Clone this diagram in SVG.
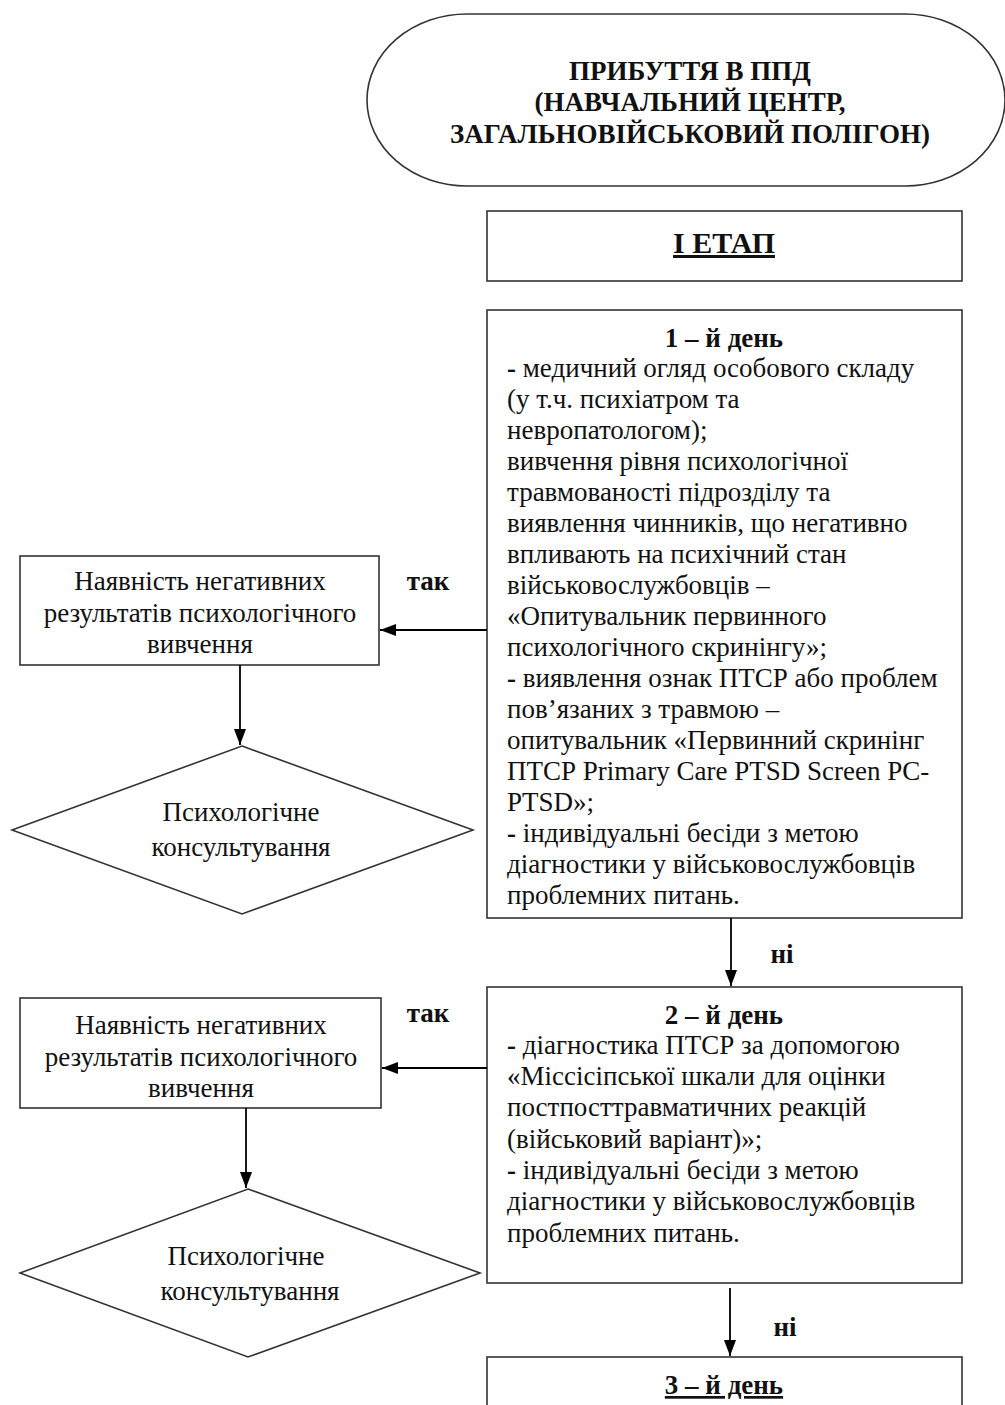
<svg xmlns="http://www.w3.org/2000/svg" width="1005" height="1405" viewBox="0 0 1005 1405">
<defs>
<marker id="ah" viewBox="0 0 16 12" refX="16" refY="6" markerWidth="16" markerHeight="12" markerUnits="userSpaceOnUse" orient="auto">
<path d="M0,0 L16,6 L0,12 Z" fill="#000"/>
</marker>
</defs>
<style>
.box{fill:#fff;stroke:#333;stroke-width:1.6}
.t{font-family:"Liberation Serif","Times New Roman",serif;font-size:27px;fill:#111}
.b{font-weight:bold}
.c{text-anchor:middle}
.u{text-decoration:underline}
.ln{stroke:#000;stroke-width:1.8;fill:none;marker-end:url(#ah)}
.h{font-family:"Liberation Serif","Times New Roman",serif;font-size:27px;font-weight:bold;fill:#111;text-anchor:middle}
</style>
<rect width="1005" height="1405" fill="#fff"/>
<g id="start">
<rect class="box" x="367" y="14" width="638" height="172" rx="100" ry="86"/>
<text class="h" x="690" y="80">ПРИБУТТЯ В ППД</text>
<text class="h" x="690" y="111">(НАВЧАЛЬНИЙ ЦЕНТР,</text>
<text class="h" x="690" y="143">ЗАГАЛЬНОВІЙСЬКОВИЙ ПОЛІГОН)</text>
</g>
<g id="stage1">
<rect class="box" x="487" y="211" width="475" height="70"/>
<text class="h u" x="724" y="253" style="font-size:30px">I ЕТАП</text>
</g>
<g id="day1">
<rect class="box" x="487" y="310" width="475" height="608"/>
<text class="t b c" x="724" y="347">1 – й день</text>
<text class="t" x="507" y="377"><tspan class="b">-</tspan> медичний огляд особового складу</text>
<text class="t" x="507" y="408">(у т.ч. психіатром та</text>
<text class="t" x="507" y="439">невропатологом);</text>
<text class="t" x="507" y="470">вивчення рівня психологічної</text>
<text class="t" x="507" y="501">травмованості підрозділу та</text>
<text class="t" x="507" y="532">виявлення чинників, що негативно</text>
<text class="t" x="507" y="563">впливають на психічний стан</text>
<text class="t" x="507" y="594">військовослужбовців –</text>
<text class="t" x="507" y="625">«Опитувальник первинного</text>
<text class="t" x="507" y="656">психологічного скринінгу»;</text>
<text class="t" x="507" y="687"><tspan class="b">-</tspan> виявлення ознак ПТСР або проблем</text>
<text class="t" x="507" y="718">пов’язаних з травмою –</text>
<text class="t" x="507" y="749">опитувальник «Первинний скринінг</text>
<text class="t" x="507" y="780">ПТСР Primary Care PTSD Screen PC-</text>
<text class="t" x="507" y="811">PTSD»;</text>
<text class="t" x="507" y="842"><tspan class="b">-</tspan> індивідуальні бесіди з метою</text>
<text class="t" x="507" y="873">діагностики у військовослужбовців</text>
<text class="t" x="507" y="904">проблемних питань.</text>
</g>
<g id="neg1">
<rect class="box" x="20" y="556" width="359" height="109"/>
<text class="t c" x="200" y="590">Наявність негативних</text>
<text class="t c" x="200" y="622">результатів психологічного</text>
<text class="t c" x="200" y="653">вивчення</text>
</g>
<g id="cons1">
<polygon class="box" points="242,746 473,830 242,914 12,830"/>
<text class="t c" x="241" y="821">Психологічне</text>
<text class="t c" x="241" y="856">консультування</text>
</g>
<g id="day2">
<rect class="box" x="487" y="987" width="475" height="296"/>
<text class="t b c" x="724" y="1024">2 – й день</text>
<text class="t" x="507" y="1054"><tspan class="b">-</tspan> діагностика ПТСР за допомогою</text>
<text class="t" x="507" y="1085">«Міссісіпської шкали для оцінки</text>
<text class="t" x="507" y="1116">постпосттравматичних реакцій</text>
<text class="t" x="507" y="1148">(військовий варіант)»;</text>
<text class="t" x="507" y="1179"><tspan class="b">-</tspan> індивідуальні бесіди з метою</text>
<text class="t" x="507" y="1210">діагностики у військовослужбовців</text>
<text class="t" x="507" y="1242">проблемних питань.</text>
</g>
<g id="neg2">
<rect class="box" x="20" y="998" width="361" height="110"/>
<text class="t c" x="201" y="1034">Наявність негативних</text>
<text class="t c" x="201" y="1066">результатів психологічного</text>
<text class="t c" x="201" y="1097">вивчення</text>
</g>
<g id="cons2">
<polygon class="box" points="248,1189 480,1273 248,1357 20,1273"/>
<text class="t c" x="246" y="1265">Психологічне</text>
<text class="t c" x="250" y="1300">консультування</text>
</g>
<g id="day3">
<rect class="box" x="487" y="1357" width="475" height="70"/>
<text class="t b c u" x="724" y="1394">3 – й день</text>
</g>
<g id="connectors">
<line class="ln" x1="487" y1="630" x2="380" y2="630"/>
<line class="ln" x1="240" y1="665" x2="240" y2="745"/>
<line class="ln" x1="731" y1="918" x2="731" y2="986"/>
<line class="ln" x1="487" y1="1068" x2="382" y2="1068"/>
<line class="ln" x1="246" y1="1108" x2="246" y2="1188"/>
<line class="ln" x1="730" y1="1288" x2="730" y2="1356"/>
<text class="t b c" x="428" y="590">так</text>
<text class="t b c" x="428" y="1022">так</text>
<text class="t b c" x="782" y="963">ні</text>
<text class="t b c" x="785" y="1336">ні</text>
</g>
</svg>
